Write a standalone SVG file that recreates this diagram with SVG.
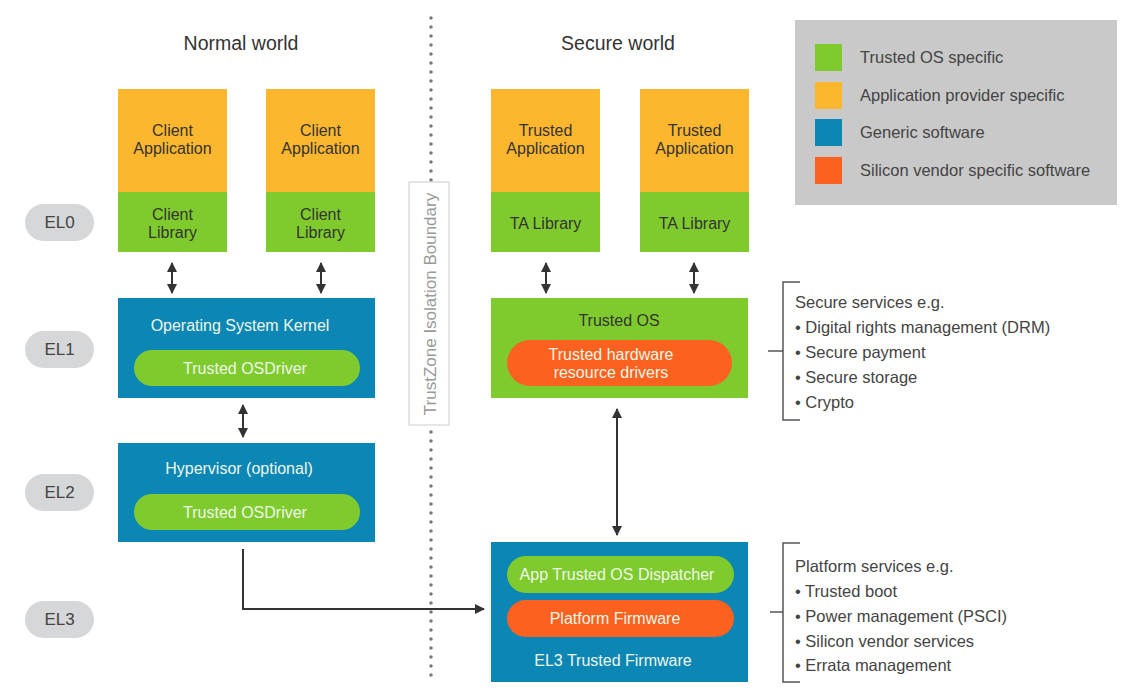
<svg xmlns="http://www.w3.org/2000/svg" width="1144" height="693" viewBox="0 0 1144 693">
<defs>
<style>
text{font-family:"Liberation Sans",Arial,sans-serif;}
.t{font-size:19.5px;fill:#333;text-anchor:middle}
.dk{font-size:16px;fill:#333;text-anchor:middle}
.wt{font-size:16px;fill:#eef6e6;text-anchor:middle}
.lg{font-size:16.5px;fill:#444}
.el{font-size:17px;fill:#444;text-anchor:middle}
.pill{fill:#d5d7d9}
.or{fill:#fdb72f}
.gr{fill:#7fcb2e}
.bl{fill:#0b86b5}
.rd{fill:#fd611f}
.ln{stroke:#333;stroke-width:2;fill:none}
.br{stroke:#555;stroke-width:1.5;fill:none}
</style>
<marker id="ah" viewBox="0 0 10 10" refX="9" refY="5" markerWidth="5" markerHeight="5" orient="auto-start-reverse">
<path d="M0,0 L10,5 L0,10 z" fill="#333"/>
</marker>
</defs>
<rect width="1144" height="693" fill="#fff"/>

<g id="boundary">
<line x1="431" y1="18" x2="431" y2="680" stroke="#777" stroke-width="3.5" stroke-linecap="round" stroke-dasharray="0 9"/>
<rect x="409" y="182" width="40" height="243" fill="#fff" stroke="#ccc" stroke-width="1"/>
<text transform="translate(436,304) rotate(-90)" style="font-size:17px;fill:#999;text-anchor:middle">TrustZone Isolation Boundary</text>
</g>

<g id="titles">
<text class="t" x="241" y="50">Normal world</text>
<text class="t" x="618" y="50">Secure world</text>
</g>

<g id="legend">
<rect x="795" y="20" width="322" height="185" fill="#c9c9c9"/>
<rect class="gr" x="815" y="44" width="27" height="27"/>
<rect class="or" x="815" y="82" width="27" height="27"/>
<rect class="bl" x="815" y="119" width="27" height="27"/>
<rect class="rd" x="815" y="157" width="27" height="27"/>
<text class="lg" x="860" y="63">Trusted OS specific</text>
<text class="lg" x="860" y="101">Application provider specific</text>
<text class="lg" x="860" y="138">Generic software</text>
<text class="lg" x="860" y="176">Silicon vendor specific software</text>
</g>

<g id="el-labels">
<rect class="pill" x="25" y="204" width="69" height="37" rx="18.5"/>
<text class="el" x="59.5" y="228">EL0</text>
<rect class="pill" x="25" y="331" width="69" height="37" rx="18.5"/>
<text class="el" x="59.5" y="355">EL1</text>
<rect class="pill" x="25" y="474" width="69" height="37" rx="18.5"/>
<text class="el" x="59.5" y="498">EL2</text>
<rect class="pill" x="25" y="601" width="69" height="37" rx="18.5"/>
<text class="el" x="59.5" y="625">EL3</text>
</g>

<g id="client1">
<rect class="or" x="118" y="89" width="109" height="103"/>
<rect class="gr" x="118" y="192" width="109" height="60"/>
<text class="dk" x="172.5" y="136">Client</text>
<text class="dk" x="172.5" y="154">Application</text>
<text class="dk" x="172.5" y="220">Client</text>
<text class="dk" x="172.5" y="238">Library</text>
</g>
<g id="client2">
<rect class="or" x="266" y="89" width="109" height="103"/>
<rect class="gr" x="266" y="192" width="109" height="60"/>
<text class="dk" x="320.5" y="136">Client</text>
<text class="dk" x="320.5" y="154">Application</text>
<text class="dk" x="320.5" y="220">Client</text>
<text class="dk" x="320.5" y="238">Library</text>
</g>
<g id="ta1">
<rect class="or" x="491" y="89" width="109" height="103"/>
<rect class="gr" x="491" y="192" width="109" height="60"/>
<text class="dk" x="545.5" y="136">Trusted</text>
<text class="dk" x="545.5" y="154">Application</text>
<text class="dk" x="545.5" y="229">TA Library</text>
</g>
<g id="ta2">
<rect class="or" x="640" y="89" width="109" height="103"/>
<rect class="gr" x="640" y="192" width="109" height="60"/>
<text class="dk" x="694.5" y="136">Trusted</text>
<text class="dk" x="694.5" y="154">Application</text>
<text class="dk" x="694.5" y="229">TA Library</text>
</g>

<g id="os-kernel">
<rect class="bl" x="118" y="298" width="257" height="100"/>
<text class="wt" x="240" y="331">Operating System Kernel</text>
<rect class="gr" x="134" y="350" width="226" height="36" rx="18"/>
<text class="wt" x="245" y="374">Trusted OSDriver</text>
</g>

<g id="hypervisor">
<rect class="bl" x="118" y="443" width="257" height="99"/>
<text class="wt" x="239" y="474">Hypervisor (optional)</text>
<rect class="gr" x="134" y="494" width="226" height="36" rx="18"/>
<text class="wt" x="245" y="518">Trusted OSDriver</text>
</g>

<g id="trusted-os">
<rect class="gr" x="491" y="298" width="257" height="100"/>
<text class="dk" x="619" y="326">Trusted OS</text>
<rect class="rd" x="507" y="340" width="225" height="46" rx="23"/>
<text class="wt" x="611" y="360">Trusted hardware</text>
<text class="wt" x="611" y="378">resource drivers</text>
</g>

<g id="el3-firmware">
<rect class="bl" x="491" y="542" width="257" height="140"/>
<rect class="gr" x="507" y="556" width="227" height="37" rx="18.5"/>
<text class="wt" x="617" y="580">App Trusted OS Dispatcher</text>
<rect class="rd" x="507" y="600" width="227" height="37" rx="18.5"/>
<text class="wt" x="615" y="624">Platform Firmware</text>
<text class="wt" x="613" y="666">EL3 Trusted Firmware</text>
</g>

<g id="connectors">
<line class="ln" x1="172" y1="263" x2="172" y2="293" marker-start="url(#ah)" marker-end="url(#ah)"/>
<line class="ln" x1="321" y1="263" x2="321" y2="293" marker-start="url(#ah)" marker-end="url(#ah)"/>
<line class="ln" x1="546" y1="263" x2="546" y2="293" marker-start="url(#ah)" marker-end="url(#ah)"/>
<line class="ln" x1="694" y1="263" x2="694" y2="293" marker-start="url(#ah)" marker-end="url(#ah)"/>
<line class="ln" x1="243" y1="405" x2="243" y2="437" marker-start="url(#ah)" marker-end="url(#ah)"/>
<line class="ln" x1="617" y1="409" x2="617" y2="535" marker-start="url(#ah)" marker-end="url(#ah)"/>
<polyline class="ln" points="243,549 243,609 484,609" marker-end="url(#ah)"/>
</g>

<g id="secure-services">
<path class="br" d="M800,282 H783 V420 H800 M768,351 H783"/>
<text class="lg" x="795" y="308">Secure services e.g.</text>
<text class="lg" x="795" y="333">• Digital rights management (DRM)</text>
<text class="lg" x="795" y="358">• Secure payment</text>
<text class="lg" x="795" y="383">• Secure storage</text>
<text class="lg" x="795" y="408">• Crypto</text>
</g>

<g id="platform-services">
<path class="br" d="M800,543 H783 V682 H800 M770,612 H783"/>
<text class="lg" x="795" y="572">Platform services e.g.</text>
<text class="lg" x="795" y="597">• Trusted boot</text>
<text class="lg" x="795" y="622">• Power management (PSCI)</text>
<text class="lg" x="795" y="647">• Silicon vendor services</text>
<text class="lg" x="795" y="671">• Errata management</text>
</g>
</svg>
